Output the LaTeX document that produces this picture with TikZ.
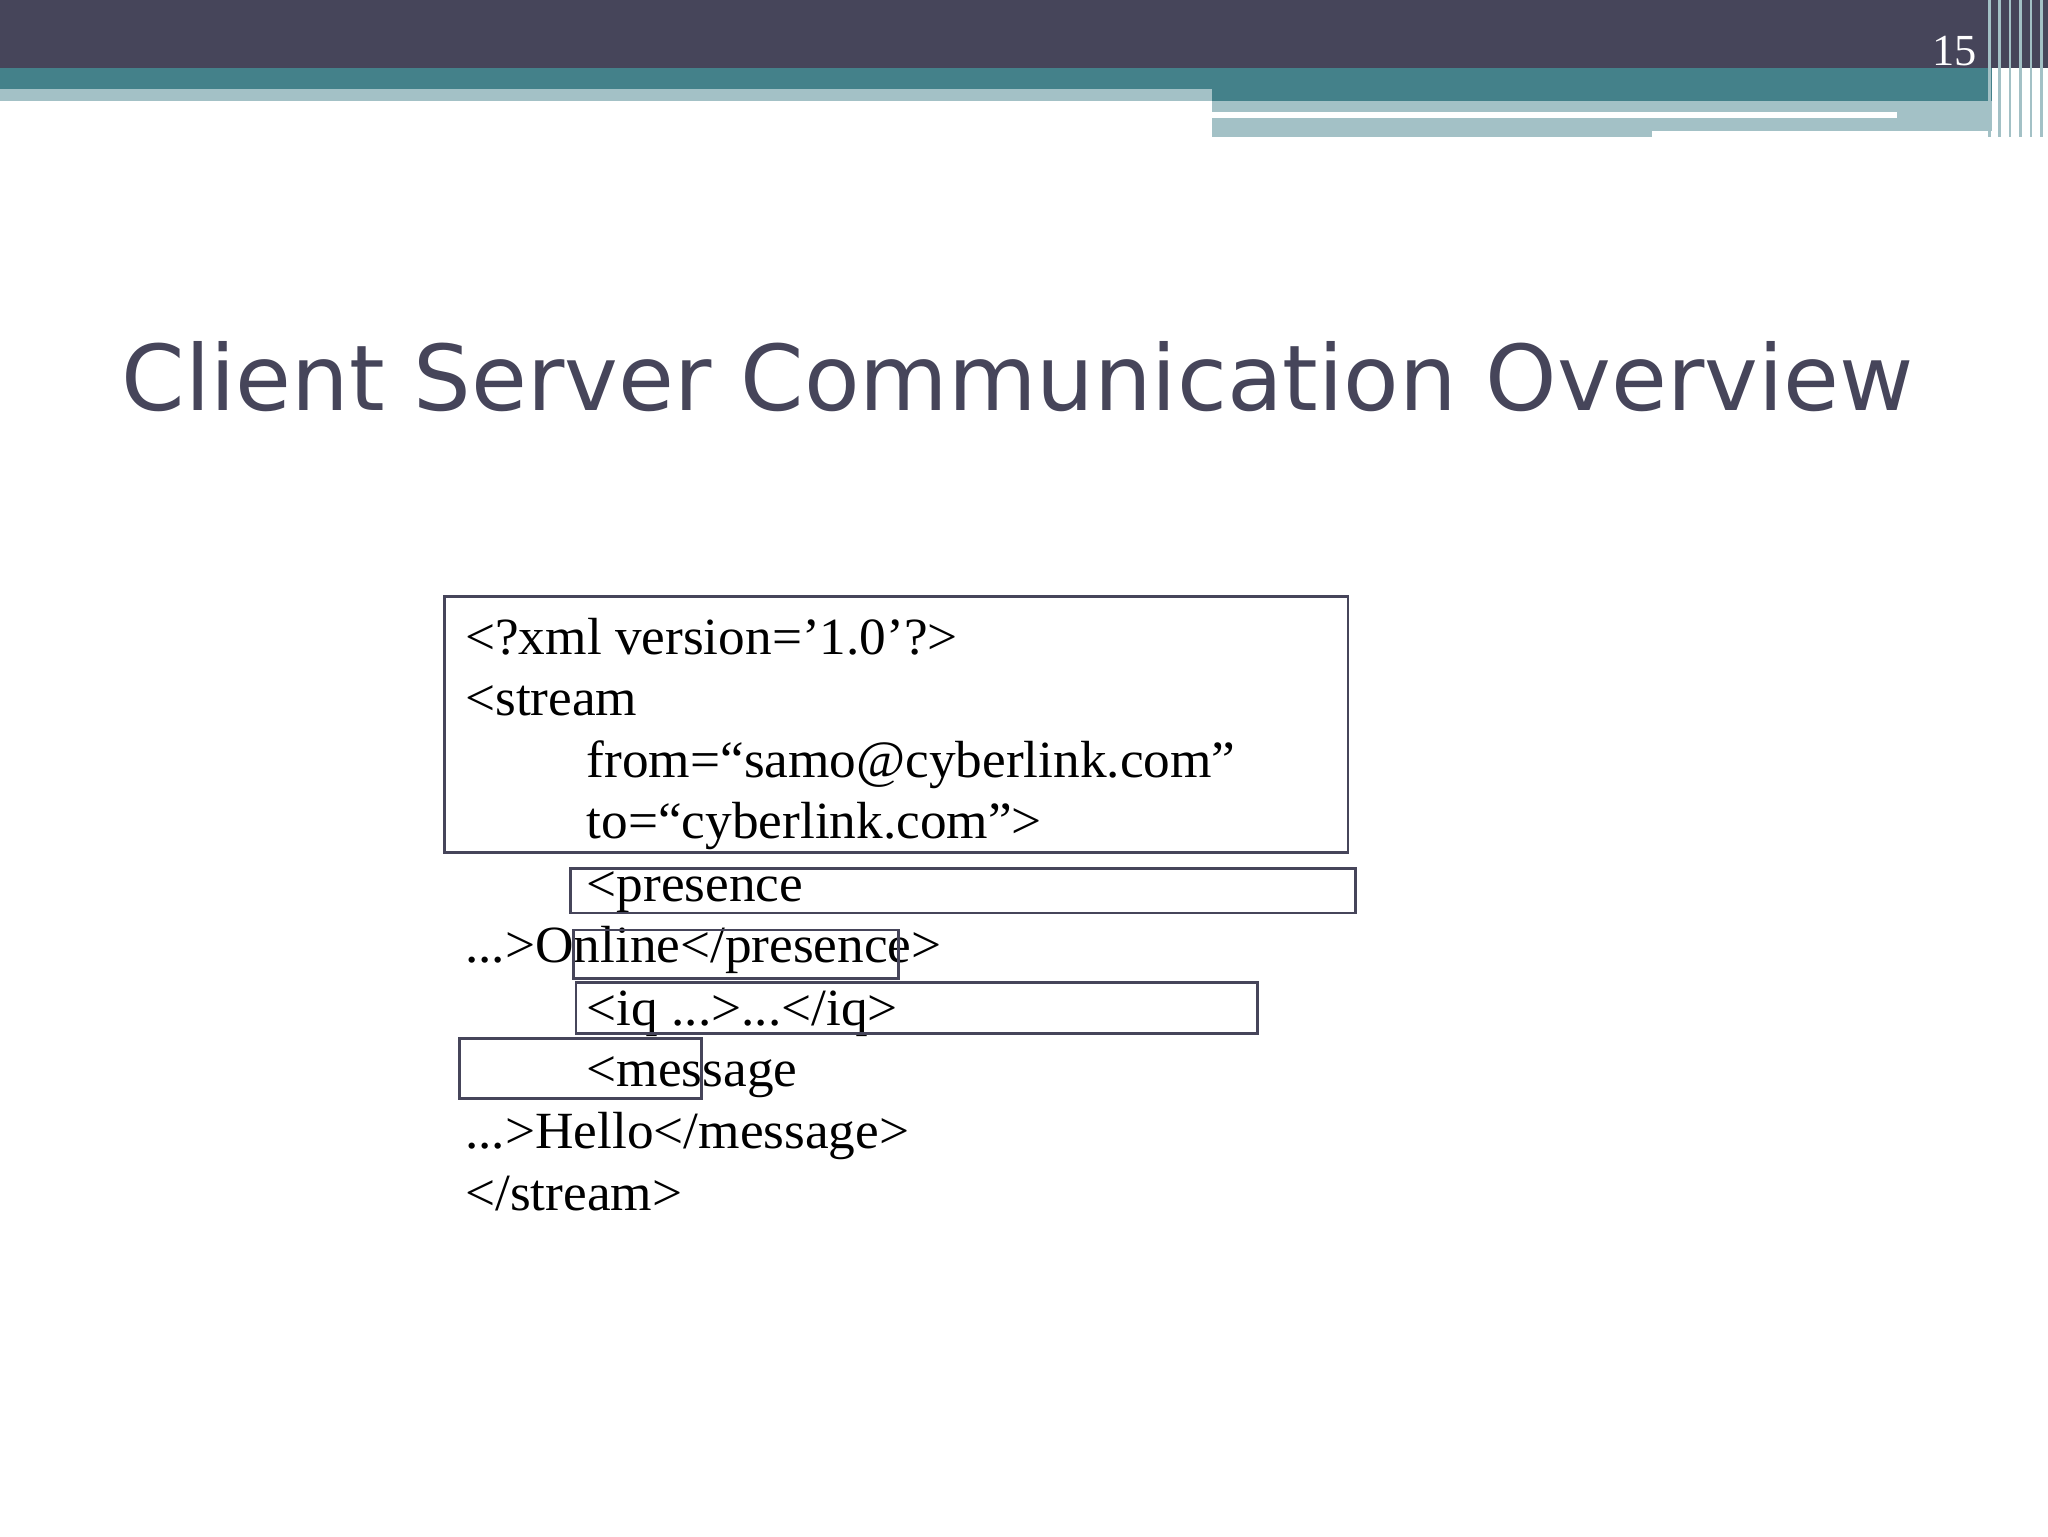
\documentclass[tikz,border=0pt]{standalone}
\usepackage{fontspec}
\setmainfont{Liberation Serif}
\newfontfamily\titlefont{DejaVu Sans}
\definecolor{dark}{HTML}{46455A}
\definecolor{teal1}{HTML}{44818A}
\definecolor{light}{HTML}{A3C1C6}
\newcommand{\sq}{\char"27\relax}
\tikzset{box/.style={draw=dark,line width=2.2pt},
 code/.style={anchor=base west,inner sep=0pt,font=\fontsize{40}{40}\selectfont,xscale=1.02}}
\begin{document}
\begin{tikzpicture}[x=1pt,y=-1pt]
\useasboundingbox (0,0) rectangle (1568,1176);
\fill[white] (0,0) rectangle (1568,1176);
\fill[dark] (0,0) rectangle (1568,52);
\fill[teal1] (0,52) rectangle (1525,68);
\fill[light] (0,68) rectangle (928,77);
\fill[teal1] (928,68) rectangle (1525,77);
\fill[light] (928,77) rectangle (1525,105);
\fill[white] (928,86) rectangle (1452,90);
\fill[white] (1265,100) rectangle (1525,105);
\foreach \x in {1522,1530,1538,1546,1554,1562} \fill[light] (\x,0) rectangle ++(2,105);
\node[text=white,font=\fontsize{34}{34}\selectfont,anchor=base east] (num) at (1517,50) {15};
\node[text=dark,anchor=base west,inner sep=0pt] (title) at (93,314) {\resizebox{1372pt}{!}{\titlefont\fontsize{76}{76}\selectfont Client Server Communication Overview}};
\node[code] (l1) at (356,501) {<?xml version=\sq1.0\sq?>};
\node[code] (l2) at (356,548) {<stream};
\node[code] (l3) at (449,595) {from=“samo@cyberlink.com”};
\node[code] (l4) at (449,642) {to=“cyberlink.com”>};
\node[code] (l5) at (449,690) {<presence};
\node[code] (l6) at (356,737) {...>Online</presence>};
\node[code] (l7) at (449,785) {<iq ...>...</iq>};
\node[code] (l8) at (449,832) {<message};
\node[code] (l9) at (356,879) {...>Hello</message>};
\node[code] (l10) at (356,927) {</stream>};
\draw[box] (340,457) rectangle (1032,653);
\draw[box] (437,665) rectangle (1038,699);
\draw[box] (439,712) rectangle (688,749);
\draw[box] (441,752) rectangle (963,791);
\draw[box] (352,795) rectangle (537,841);
\end{tikzpicture}
\end{document}
